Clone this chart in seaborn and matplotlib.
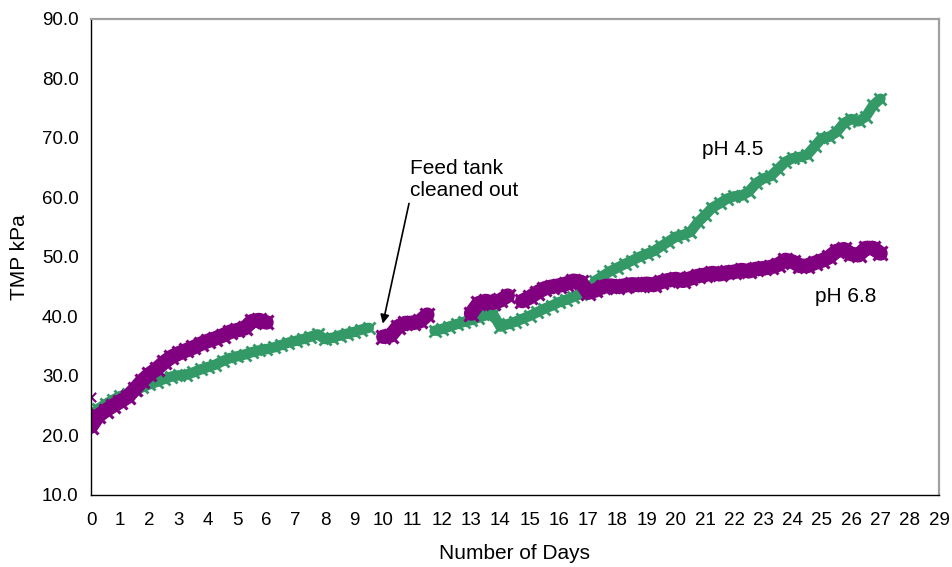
import numpy as np
import pandas as pd
import matplotlib
matplotlib.use("Agg")
import matplotlib.pyplot as plt
import seaborn as sns

# ---- data ----
days = [i * 0.25 for i in range(109)]  # 0 .. 27 step 0.25
nan = np.nan

ph45 = [23.4, 24.5, 25.3, 26.0, 26.6, 27.0, 27.6, 28.1, 28.6, 29.0, 29.5, 29.9,
        30.1, 30.2, 30.6, 31.1, 31.5, 31.9, 32.5, 33.0, 33.3, 33.6, 34.0, 34.3,
        34.5, 34.8, 35.2, 35.6, 35.9, 36.2, 36.6, 37.0, 36.2, 36.4, 36.8, 37.1,
        37.4, 37.8, 38.1,
        nan, nan, nan, nan, nan, nan, nan, nan,
        37.6, 37.9, 38.3, 38.7, 39.1, 39.4, 39.8, 40.2, 40.4,
        38.3, 38.7, 39.1, 39.6, 40.1, 40.7, 41.3, 41.8, 42.4, 42.8, 43.3, 43.8,
        44.3, 46.0, 46.8, 47.6, 48.2, 48.8, 49.4, 50.0, 50.5, 51.0, 51.8, 52.6,
        53.4, 53.7, 54.2, 55.8, 57.0, 58.3, 59.0, 59.8, 60.2, 60.3, 61.0, 62.4,
        63.2, 63.6, 64.8, 66.0, 66.6, 66.8, 67.2, 68.6, 70.0, 70.2, 71.0, 72.5,
        73.2, 72.8, 73.6, 75.5, 76.6]

ph68 = [21.5, 23.3, 24.2, 25.0, 25.7, 26.5, 27.8, 29.2, 30.3, 31.2, 32.3, 33.2,
        33.8, 34.3, 34.8, 35.4, 35.9, 36.3, 36.8, 37.4, 37.7, 38.0, 39.2, 39.4,
        39.0,
        nan, nan, nan, nan, nan, nan, nan, nan, nan, nan, nan, nan, nan, nan, nan,
        36.6, 36.8, 38.3, 38.9, 38.9, 39.2, 40.3,
        nan, nan, nan, nan, nan,
        40.5, 42.2, 42.6, 42.3, 42.7, 43.5,
        nan,
        42.6, 43.2, 44.0, 44.7, 45.0, 45.2, 45.5, 46.0, 45.8,
        44.0, 44.4, 45.0, 45.2, 45.0, 45.2, 45.4, 45.3, 45.5, 45.3, 45.8, 46.1,
        46.3, 46.0, 46.4, 46.8, 47.0, 47.3, 47.1, 47.4, 47.5, 47.8, 47.6, 48.0,
        48.1, 48.3, 48.7, 49.5, 49.2, 48.5, 48.5, 49.0, 49.4, 50.0, 51.0, 51.3,
        50.5, 50.3, 51.5, 51.5, 50.6]

outlier_day = [0.0]
outlier_val = [26.5]

x_ticks = list(range(0, 30))
y_ticks = [10, 20, 30, 40, 50, 60, 70, 80, 90]

GREEN = "#339966"
PURPLE = "#800080"


def segmented(x, y):
    df = pd.DataFrame({"day": x, "tmp": y})
    df["seg"] = df["tmp"].isna().cumsum()
    return df.dropna()


g = segmented(days, ph45)
p = segmented(days, ph68)

sns.set_style("white")
plt.rcParams["font.family"] = ["Liberation Sans", "DejaVu Sans"]
plt.rcParams["text.color"] = "black"
plt.rcParams["axes.labelcolor"] = "black"
plt.rcParams["xtick.color"] = "black"
plt.rcParams["ytick.color"] = "black"

fig = plt.figure(figsize=(9.52, 5.67), dpi=100)
ax = fig.add_axes([0.0956, 0.127, 0.8907, 0.8395])

sns.lineplot(data=g, x="day", y="tmp", units="seg", estimator=None, ax=ax,
             color=GREEN, linewidth=7.5, marker="x", markersize=8,
             markeredgewidth=2.0, markeredgecolor=GREEN, sort=False,
             solid_capstyle="round", solid_joinstyle="round", legend=False)
sns.lineplot(data=p, x="day", y="tmp", units="seg", estimator=None, ax=ax,
             color=PURPLE, linewidth=10.5, marker="x", markersize=10,
             markeredgewidth=2.2, markeredgecolor=PURPLE, sort=False,
             solid_capstyle="round", solid_joinstyle="round", legend=False)
sns.scatterplot(x=outlier_day, y=outlier_val, ax=ax, marker="x", color=PURPLE,
                s=45, linewidth=1.5, legend=False)

ax.set_xlim(0, 29)
ax.set_ylim(10, 90)
ax.set_xticks(x_ticks)
ax.set_xticklabels([str(t) for t in x_ticks])
ax.set_yticks(y_ticks)
ax.set_yticklabels([f"{t:.1f}" for t in y_ticks])
ax.tick_params(axis="both", which="major", direction="out", length=5, width=1,
               color="black", labelsize=13.5, labelcolor="black", pad=4)
ax.tick_params(axis="x", pad=7)

for side in ["left", "bottom"]:
    ax.spines[side].set_color("black")
    ax.spines[side].set_linewidth(1.0)
for side in ["top", "right"]:
    ax.spines[side].set_color("#a0a0a0")
    ax.spines[side].set_linewidth(1.6)
    ax.spines[side].set_visible(True)

ax.set_xlabel("Number of Days", fontsize=15, labelpad=11, color="black")
ax.set_ylabel("TMP kPa", fontsize=15, labelpad=9, color="black")

ax.text(20.9, 68, "pH 4.5", fontsize=15, va="center", ha="left", color="black")
ax.text(24.75, 43.3, "pH 6.8", fontsize=15, va="center", ha="left", color="black")
ax.annotate("Feed tank\ncleaned out", xy=(9.98, 38.8), xytext=(10.9, 63.0),
            fontsize=15, ha="left", va="center", linespacing=1.2, color="black",
            arrowprops=dict(arrowstyle="-|>", color="black", lw=1.2,
                            shrinkA=0, shrinkB=0, mutation_scale=13,
                            relpos=(0.0, 0.0)))

fig.savefig("out.png", dpi=100)
